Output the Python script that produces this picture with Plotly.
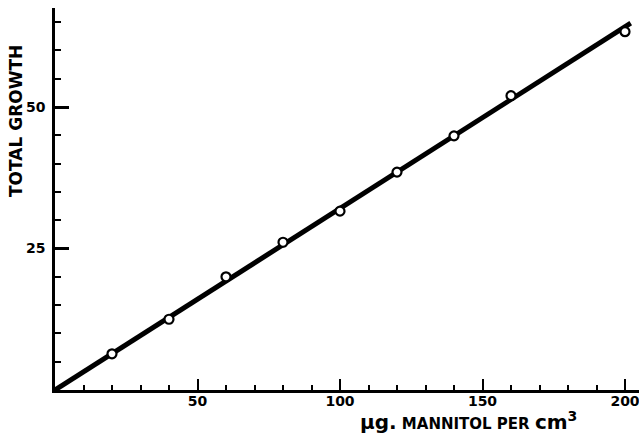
import plotly.graph_objects as go

# Data
mannitol = [20, 40, 60, 80, 100, 120, 140, 160, 200]
growth = [6.4, 12.5, 20.0, 26.1, 31.6, 38.5, 44.9, 52.0, 63.3]

# Fitted straight line (drawn by hand in original)
line_x = [0, 202]
line_y = [0, 64.8]

x_ticks = [50, 100, 150, 200]
y_ticks = [25, 50]

W, H = 639, 435
L, R, T, B = 55, 0, 8, 45
pw, ph = W - L - R, H - T - B

fig = go.Figure()
fig.add_trace(go.Scatter(x=line_x, y=line_y, mode="lines",
                         line=dict(color="black", width=5), hoverinfo="skip",
                         cliponaxis=False))
fig.add_trace(go.Scatter(x=mannitol, y=growth, mode="markers", cliponaxis=False,
                         marker=dict(symbol="circle", size=9, color="white",
                                     line=dict(color="black", width=2.2))))

font_lbl = dict(family="DejaVu Sans", size=14, color="black", weight="bold")

fig.update_layout(
    width=W, height=H, showlegend=False,
    paper_bgcolor="white", plot_bgcolor="white",
    margin=dict(l=L, r=R, t=T, b=B, autoexpand=False),
    xaxis=dict(range=[0, pw / 2.85], showline=True, linecolor="black", linewidth=2.5,
               showgrid=False, zeroline=False, tickvals=x_ticks, ticks="inside",
               ticklen=11, tickwidth=2, tickcolor="black", tickfont=font_lbl,
               ticklabelstandoff=-4, ticklabeloverflow="allow",
               minor=dict(dtick=10, tick0=0, ticks="inside", ticklen=5, tickwidth=1.5,
                          tickcolor="black", showgrid=False)),
    yaxis=dict(range=[0, ph / 5.66], showline=True, linecolor="black", linewidth=2.5,
               showgrid=False, zeroline=False, tickvals=y_ticks, ticks="inside",
               ticklen=14, tickwidth=2.5, tickcolor="black", tickfont=font_lbl,
               ticklabelstandoff=4,
               minor=dict(dtick=5, tick0=0, ticks="inside", ticklen=6, tickwidth=1.5,
                          tickcolor="black", showgrid=False)),
)

fig.add_annotation(xref="paper", yref="paper",
                   x=(16 - L) / pw, y=(H - B - 121) / ph,
                   text="TOTAL GROWTH", textangle=-90, showarrow=False,
                   font=dict(family="DejaVu Sans", size=17, color="black", weight="bold"),
                   xanchor="center", yanchor="middle")
fig.add_annotation(xref="paper", yref="paper",
                   x=(468 - L) / pw, y=-(421 - (H - B)) / ph,
                   text=("<span style='font-size:20px'>µg.</span> MANNITOL PER "
                         "<span style='font-size:20px'>cm<sup>3</sup></span>"),
                   showarrow=False,
                   font=dict(family="DejaVu Sans", size=15, color="black", weight="bold"),
                   xanchor="center", yanchor="middle")

fig.write_html("out.html", config={"displayModeBar": False},
               post_script="document.body.style.margin='0';document.body.style.overflow='hidden';")
